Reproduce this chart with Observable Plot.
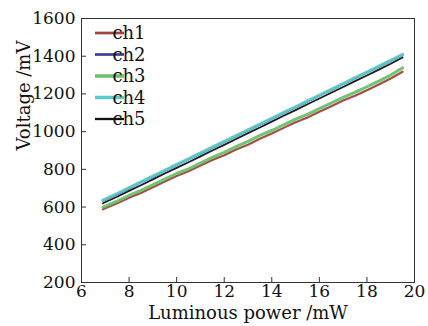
<!DOCTYPE html>
<html>
<head>
<meta charset="utf-8">
<script src="https://cdn.jsdelivr.net/npm/d3@7"></script>
<script src="https://cdn.jsdelivr.net/npm/@observablehq/plot@0.6"></script>
<style>
  html, body { margin: 0; padding: 0; background: #fff; }
  #chart svg { display: block; }
</style>
</head>
<body>
<div id="chart"></div>
<script>
const power = [6.9, 7.5, 8, 8.5, 9, 9.5, 10, 10.5, 11, 11.5, 12, 12.5, 13, 13.5, 14, 14.5, 15, 15.5, 16, 16.5, 17, 17.5, 18, 18.5, 19, 19.5];
const ch1 = [588, 620, 650, 675, 705, 735, 765, 790, 820, 850, 875, 905, 930, 962, 990, 1020, 1050, 1075, 1105, 1135, 1165, 1190, 1220, 1250, 1282, 1318];
const ch2 = [634, 668, 700, 731, 761, 792, 823, 853, 884, 915, 945, 976, 1007, 1037, 1068, 1099, 1129, 1160, 1191, 1221, 1252, 1283, 1313, 1344, 1375, 1406];
const ch3 = [600, 632, 662, 688, 718, 748, 778, 803, 833, 863, 890, 920, 948, 980, 1006, 1036, 1066, 1092, 1122, 1152, 1182, 1208, 1238, 1268, 1300, 1338];
const ch4 = [637, 672, 703, 734, 764, 795, 826, 856, 887, 918, 948, 979, 1010, 1040, 1071, 1102, 1132, 1163, 1194, 1224, 1255, 1286, 1316, 1347, 1378, 1410];
const ch5 = [620, 655, 686, 716, 747, 778, 808, 838, 869, 900, 930, 961, 992, 1022, 1053, 1084, 1114, 1145, 1176, 1206, 1237, 1268, 1298, 1329, 1360, 1393];
const seriesNames = ["ch1", "ch2", "ch3", "ch4", "ch5"];
const xTicks = [6, 8, 10, 12, 14, 16, 18, 20];
const yTicks = [200, 400, 600, 800, 1000, 1200, 1400, 1600];

const colors = {ch1: "#a0443f", ch2: "#3b3f98", ch3: "#6cc06a", ch4: "#5ccbc8", ch5: "#111111"};
const widths = {ch1: 2.2, ch2: 2.2, ch3: 3, ch4: 3, ch5: 1.8};
const drawOrder = ["ch1", "ch3", "ch2", "ch4", "ch5"];
const valuesBy = {ch1, ch2, ch3, ch4, ch5};

const rows = [];
for (const s of seriesNames) power.forEach((p, i) => rows.push({series: s, power: p, voltage: valuesBy[s][i]}));

const font = "'DejaVu Serif', serif";
const W = 428, H = 326;
const mL = 81, mR = 14, mT = 18, mB = 44;

const chart = Plot.plot({
  width: W, height: H,
  marginLeft: mL, marginRight: mR, marginTop: mT, marginBottom: mB,
  style: {fontFamily: font, fontSize: "17px", color: "#111", background: "#fff"},
  x: {domain: [6, 20]},
  y: {domain: [200, 1600]},
  marks: [
    Plot.frame({stroke: "#333", strokeWidth: 1}),
    Plot.axisX(xTicks, {tickSize: -5, tickPadding: 7, fontSize: 17, stroke: "#333", fill: "#111", label: null, tickFormat: d3.format("d")}),
    Plot.axisY(yTicks, {tickSize: -5, tickPadding: 11, fontSize: 17, stroke: "#333", fill: "#111", label: null, tickFormat: d3.format("d")}),
    ...drawOrder.map(s => Plot.line(rows.filter(r => r.series === s), {
      x: "power", y: "voltage", stroke: colors[s], strokeWidth: widths[s], strokeOpacity: 0.95, curve: "linear"
    })),
    Plot.text(["Luminous power /mW"], {frameAnchor: "bottom", dy: 36, fontSize: 18, fill: "#111"}),
    Plot.text(["Voltage /mV"], {frameAnchor: "left", dx: -57, rotate: -90, fontSize: 18, fill: "#111"})
  ]
});

// legend inside the plot area, top-left
const svg = d3.select(chart);
const leg = svg.append("g").attr("font-family", font).attr("font-size", 18);
seriesNames.forEach((s, i) => {
  const y = 33 + i * 21.5;
  leg.append("line").attr("x1", 95).attr("x2", 124).attr("y1", y).attr("y2", y)
    .attr("stroke", colors[s]).attr("stroke-width", widths[s] + 0.5);
  leg.append("text").attr("x", 129).attr("y", y).attr("dy", "0.35em").attr("fill", "#111").text(s);
});

document.getElementById("chart").appendChild(chart);
</script>
</body>
</html>
